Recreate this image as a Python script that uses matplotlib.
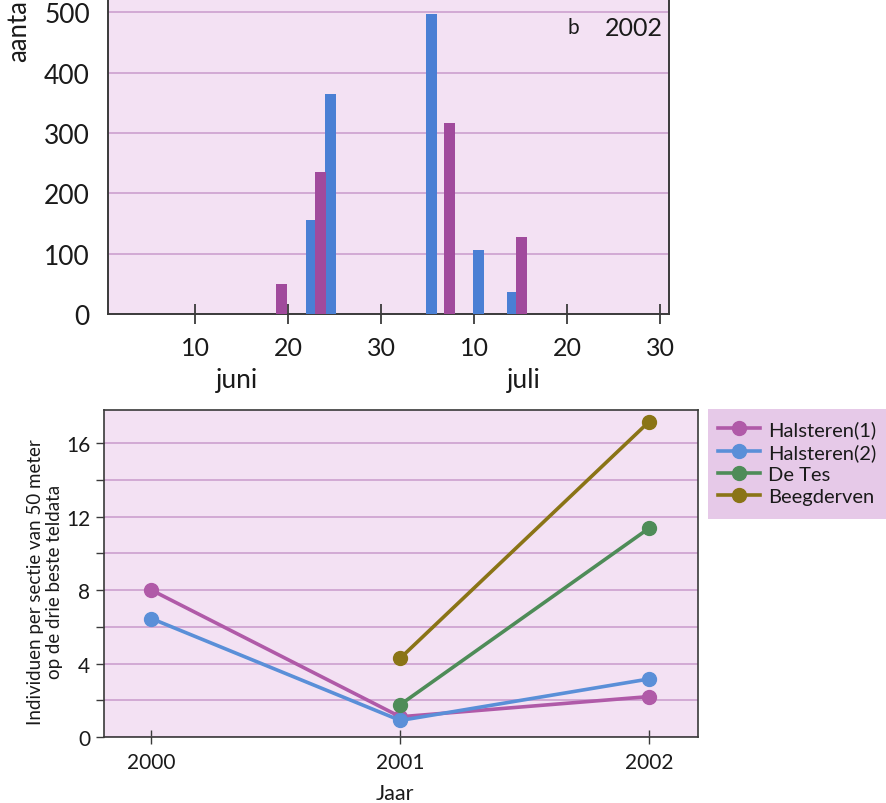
import numpy as np
import matplotlib
matplotlib.use("Agg")
import matplotlib.pyplot as plt
from matplotlib.ticker import MultipleLocator
from matplotlib.patches import Rectangle

plt.rcParams['font.family'] = ['Lato', 'DejaVu Sans']

# top panel: counts per day (day 1 = 1 juni, day 31 = 1 juli)
blue_days = [22.5, 24.6, 35.4, 40.4, 44.1]
blue_vals = [155, 365, 497, 106, 37]
mag_days = [19.3, 23.5, 37.3, 45.1]
mag_vals = [50, 235, 317, 127]
day_ticks = [10, 20, 30, 40, 50, 60]
day_labels = ['10', '20', '30', '10', '20', '30']

# bottom panel: individuals per section
years = [2000, 2001, 2002]
halsteren1 = [8.0, 1.1, 2.2]
halsteren2 = [6.45, 0.9, 3.16]
detes_years = [2001, 2002]
detes = [1.76, 11.37]
beeg_years = [2001, 2002]
beegderven = [4.29, 17.17]

bg = '#f3e1f3'
gridc = '#cc9fce'
spinec = '#3a3a3a'
textc = '#1a1a1a'
c_blue = '#4a7fd4'
c_mag = '#a04a9c'

fig = plt.figure(figsize=(8.86, 8.04), dpi=100)

#---- top bar chart
ax1 = fig.add_axes([0.1219, 0.6082, 0.633, 0.4204])
ax1.set_facecolor(bg)
ax1.bar(blue_days, blue_vals, width=1.18, color=c_blue, zorder=3)
ax1.bar(mag_days, mag_vals, width=1.18, color=c_mag, zorder=3)
ax1.set_xlim(0.65, 60.9)
ax1.set_ylim(0, 560)
ax1.set_yticks(range(0, 600, 100))
ax1.yaxis.grid(True, color=gridc, lw=1.2, zorder=1)
ax1.set_xticks(day_ticks)
ax1.set_xticklabels(day_labels)
ax1.tick_params(axis='x', direction='inout', length=14, width=1.3, color=spinec,
                labelsize=18, pad=9, labelcolor=textc)
ax1.tick_params(axis='y', length=0, labelsize=19, pad=13, labelcolor=textc)
ax1.spines['top'].set_visible(False)
for s in ['left', 'right', 'bottom']:
    ax1.spines[s].set_color(spinec)
    ax1.spines[s].set_linewidth(1.4)
ax1.annotate('juni', xy=(14.5, 0), xycoords=ax1.get_xaxis_transform(),
             xytext=(0, -47), textcoords='offset points', ha='center', va='center',
             fontsize=19, color=textc)
ax1.annotate('juli', xy=(45.3, 0), xycoords=ax1.get_xaxis_transform(),
             xytext=(0, -47), textcoords='offset points', ha='center', va='center',
             fontsize=19, color=textc)
ax1.text(50.6, 475, 'b', fontsize=15, ha='center', va='center', color=textc)
ax1.text(57.1, 475, '2002', fontsize=18, ha='center', va='center', color=textc)
# y label, only its first letters are inside the picture
fig.text(0.0205, 0.9995, 'aanta', rotation=90, ha='center', va='top',
         fontsize=18.5, color=textc)

#---- bottom line chart
ax2 = fig.add_axes([0.1174, 0.0821, 0.6704, 0.4067])
ax2.set_facecolor(bg)
ax2.plot(years, halsteren1, '-o', color='#b05aa8', lw=2.6, ms=10, label='Halsteren(1)', zorder=3)
ax2.plot(years, halsteren2, '-o', color='#5a8fd8', lw=2.6, ms=10, label='Halsteren(2)', zorder=3)
ax2.plot(detes_years, detes, '-o', color='#4e8c58', lw=2.6, ms=10, label='De Tes', zorder=3)
ax2.plot(beeg_years, beegderven, '-o', color='#8a7416', lw=2.6, ms=10, label='Beegderven', zorder=3)
ax2.set_xlim(1999.81, 2002.196)
ax2.set_ylim(0, 17.8)
ax2.set_yticks([0, 4, 8, 12, 16])
ax2.yaxis.set_minor_locator(MultipleLocator(2))
ax2.yaxis.grid(True, which='both', color=gridc, lw=1.2, zorder=1)
ax2.set_xticks(years)
ax2.tick_params(axis='x', direction='inout', length=10, width=1, color=spinec,
                labelsize=15, pad=6, labelcolor=textc)
ax2.tick_params(axis='y', which='both', direction='out', length=6, width=1, color=spinec,
                labelsize=15, pad=4, labelcolor=textc)
for s in ax2.spines.values():
    s.set_color(spinec)
    s.set_linewidth(1.2)
ax2.annotate('Jaar', xy=(0.49, 0), xycoords='axes fraction', xytext=(0, -40),
             textcoords='offset points', ha='center', va='center', fontsize=15.5, color=textc)
fig.text(0.0508, 0.276, 'Individuen per sectie van 50 meter\nop de drie beste teldata',
         rotation=90, ha='center', va='center', multialignment='center',
         fontsize=13.5, linespacing=1.1, color=textc)

# legend box
fig.patches.append(Rectangle((0.799, 0.3532), 0.201, 0.1368, transform=fig.transFigure,
                             facecolor='#e6c9e8', edgecolor='none', zorder=-1))
ax2.legend(loc='upper left', bbox_to_anchor=(0.8104, 0.4760), bbox_transform=fig.transFigure,
           frameon=False, fontsize=14.5, handlelength=2.1, handletextpad=0.4,
           labelspacing=0.25, borderpad=0, borderaxespad=0, labelcolor=textc)

plt.savefig('out.png', dpi=100, facecolor='white')
